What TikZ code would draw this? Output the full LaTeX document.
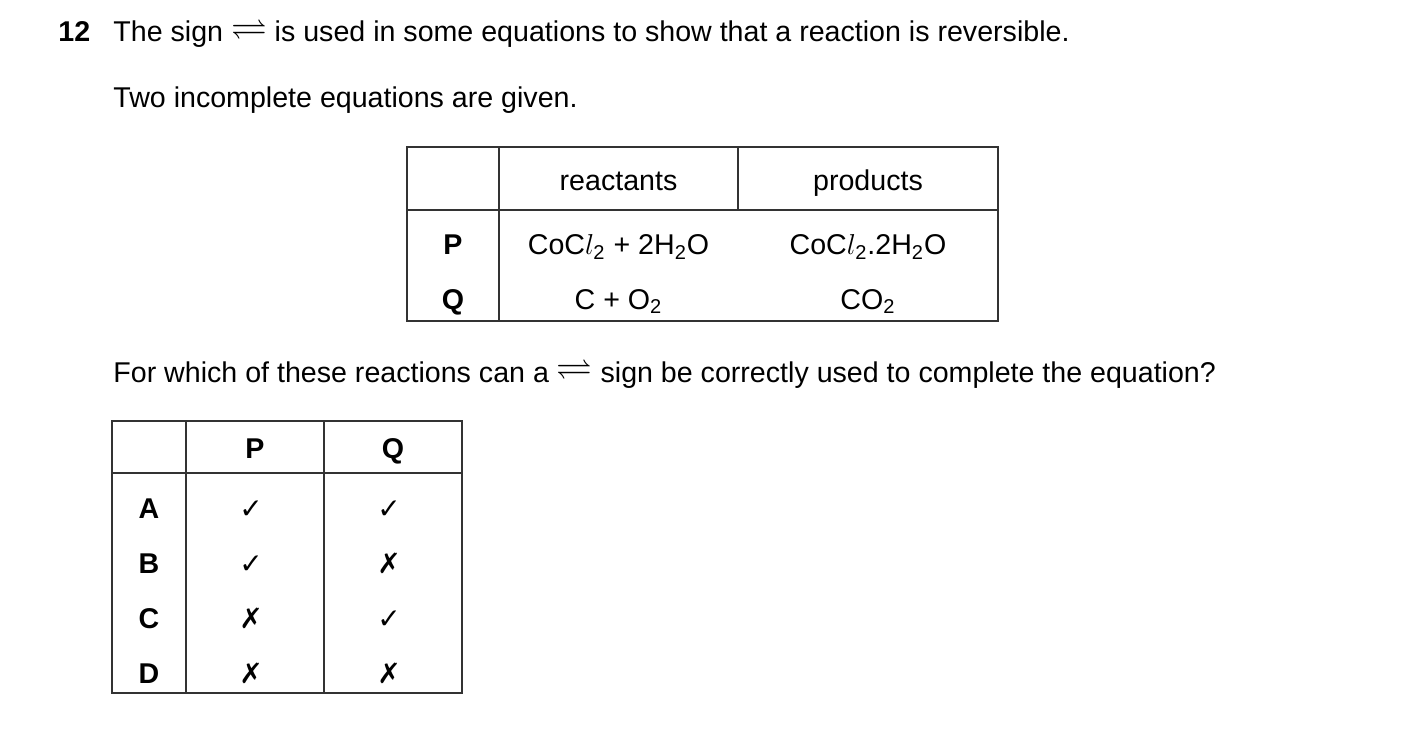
\documentclass[tikz,border=0pt]{standalone}
\usepackage{amsmath,amssymb}
\usepackage{fontspec}
\setmainfont{Liberation Sans}
\newfontfamily\dvs{DejaVu Sans}
\begin{document}
\begin{tikzpicture}[x=0.5pt,y=-0.5pt,
  t/.style={inner sep=0pt,anchor=base,font=\fontsize{14.3}{17}\selectfont},
  tb/.style={t,font=\fontsize{14.3}{17}\selectfont\bfseries},
  l/.style={t,anchor=base west},
  g/.style={line width=0.7pt,black!80}]
\useasboundingbox (0,0) rectangle (1403,743);
\newcommand{\eqm}{\raisebox{0.2ex}{\scalebox{1.25}{$\rightleftharpoons$}}}
\newcommand{\yes}{{\dvs\fontsize{14}{16}\selectfont ✓}}
\newcommand{\no}{{\dvs\fontsize{14}{16}\selectfont\bfseries ✗}}
\node[tb,anchor=base west] (n) at (58,42) {12};
\node[l] (l1) at (113,42) {The sign \eqm\ is used in some equations to show that a reaction is reversible.};
\node[l] (l2) at (113,108) {Two incomplete equations are given.};
\node[l] (l3) at (113,382) {For which of these reactions can a \eqm\ sign be correctly used to complete the equation?};
% table 1
\draw[g] (407,147) rectangle (998,321);
\draw[g] (499,147) -- (499,321) (738,147) -- (738,210) (407,210) -- (998,210);
\node[t] (h1) at (618.5,191) {reactants};
\node[t] (h2) at (868,191) {products};
\node[tb] (p) at (453,255) {P};
\node[tb] (q) at (453,309) {Q};
\node[t] (pr) at (618.5,255) {CoC$l_{\text{2}}$ + 2H\textsubscript{2}O};
\node[t] (pp) at (868,255) {CoC$l_{\text{2}}$.2H\textsubscript{2}O};
\node[t] (qr) at (618.5,309) {C + O\textsubscript{2}};
\node[t] (qp) at (868,309) {CO\textsubscript{2}};
% table 2
\draw[g] (112,421) rectangle (462,693);
\draw[g] (186,421) -- (186,693) (324,421) -- (324,693) (112,473) -- (462,473);
\node[tb] (hp) at (255,458) {P};
\node[tb] (hq) at (393,458) {Q};
\foreach \L/\y/\a/\b in {A/508/\yes/\yes,B/563/\yes/\no,C/618/\no/\yes,D/673/\no/\no}{
  \node[tb] (r\L) at (149,\y+10) {\L};
  \node[t] (p\L) at (251,\y+10) {\a};
  \node[t] (q\L) at (389,\y+10) {\b};
}
\end{tikzpicture}
\end{document}
